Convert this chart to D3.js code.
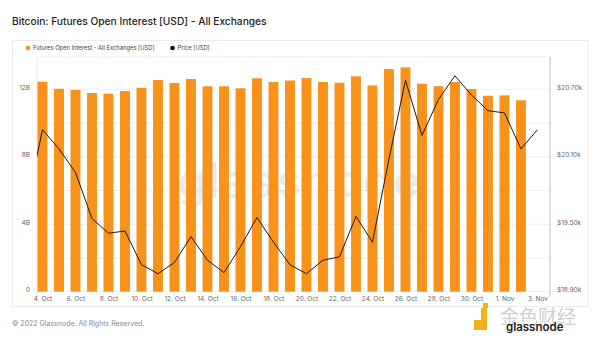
<!DOCTYPE html>
<html><head><meta charset="utf-8">
<script src="https://cdn.jsdelivr.net/npm/d3@7/dist/d3.min.js"></script>
<style>
body{margin:0;background:#fff}
svg{display:block;font-family:Inter,"Noto Sans",sans-serif}
</style></head>
<body><svg id="c" width="600" height="338"></svg>
<script>
// ---- data ----
const oiDates = ["2022-10-04","2022-10-05","2022-10-06","2022-10-07","2022-10-08","2022-10-09","2022-10-10","2022-10-11","2022-10-12","2022-10-13","2022-10-14","2022-10-15","2022-10-16","2022-10-17","2022-10-18","2022-10-19","2022-10-20","2022-10-21","2022-10-22","2022-10-23","2022-10-24","2022-10-25","2022-10-26","2022-10-27","2022-10-28","2022-10-29","2022-10-30","2022-10-31","2022-11-01","2022-11-02"];
const openInterestB = [12.45,12.03,11.96,11.78,11.74,11.90,12.09,12.55,12.37,12.61,12.18,12.18,12.06,12.65,12.43,12.52,12.67,12.43,12.39,12.77,12.23,13.20,13.30,12.33,12.19,12.43,12.02,11.62,11.64,11.35];
const priceDates = ["2022-10-03"].concat(oiDates, ["2022-11-03"]);
const priceK = [19.65,20.34,20.17,19.96,19.55,19.42,19.44,19.14,19.06,19.16,19.39,19.18,19.07,19.30,19.56,19.34,19.14,19.06,19.18,19.21,19.57,19.34,20.08,20.78,20.29,20.61,20.82,20.65,20.51,20.49,20.17,20.34];
const oiTicks = [0,4,8,12];
const oiTickLabels = ["0","4B","8B","12B"];
const priceTicks = [18.9,19.5,20.1,20.7];
const priceTickLabels = ["$18.90k","$19.50k","$20.10k","$20.70k"];
const gridVals = [0,2,4,6,8,10,12];
const xTickDates = ["2022-10-04","2022-10-06","2022-10-08","2022-10-10","2022-10-12","2022-10-14","2022-10-16","2022-10-18","2022-10-20","2022-10-22","2022-10-24","2022-10-26","2022-10-28","2022-10-30","2022-11-01","2022-11-03"];
const title = "Bitcoin: Futures Open Interest [USD] - All Exchanges";
const legendItems = [{label:"Futures Open Interest - All Exchanges [USD]", color:"#f7931a"},{label:"Price [USD]", color:"#111"}];

// ---- layout ----
const svg = d3.select("#c");
const L = 37, R = 550, T = 57, B = 291.7;
const parse = d3.utcParse("%Y-%m-%d");
const DAY = 864e5;
const t0 = parse(oiDates[0]);
const x = d3.scaleUtc()
  .domain([new Date(+t0 - 0.333*DAY), new Date(+t0 + 30.76*DAY)])
  .range([L, R]);
const yL = d3.scaleLinear().domain([0, 12]).range([B, 89.3]);
const yR = d3.scaleLinear().domain([18.9, 20.7]).range([B, 89.3]);
const dayW = x(new Date(+t0 + DAY)) - x(t0);
const barW = dayW * 0.6;

// frame
svg.append("rect").attr("x", 12.5).attr("y", 40.5).attr("width", 575.5).attr("height", 266)
  .attr("fill", "none").attr("stroke", "#ececec");

// title
svg.append("text").attr("x", 12).attr("y", 25).attr("font-size", 10.2).attr("font-weight", 500)
  .attr("fill", "#222").text(title);

// legend
let lx = 28;
legendItems.forEach((d, i) => {
  const g = svg.append("g");
  g.append("circle").attr("cx", lx).attr("cy", 48).attr("r", 2.3).attr("fill", d.color);
  const t = g.append("text").attr("x", lx + 5).attr("y", 50.2).attr("font-size", 5.8).attr("fill", "#444").text(d.label);
  lx += t.node().getComputedTextLength() + 23;
});

// plot frame lines
svg.append("line").attr("x1", L).attr("x2", R).attr("y1", T).attr("y2", T).attr("stroke", "#ececec");
svg.append("line").attr("x1", L).attr("x2", L).attr("y1", T).attr("y2", B + 5).attr("stroke", "#e6e6e6");

// gridlines
svg.append("g").selectAll("line").data(gridVals).join("line")
  .attr("x1", L).attr("x2", R).attr("y1", d => yL(d)).attr("y2", d => yL(d))
  .attr("stroke", "#efefef").attr("stroke-width", 1);

// watermark
svg.append("text").attr("x", 300).attr("y", 197).attr("text-anchor", "middle")
  .attr("font-size", 46).attr("font-weight", 500).attr("fill", "#000").attr("opacity", 0.07)
  .attr("letter-spacing", 2).text("glassnode");

// bars
svg.append("g").selectAll("rect").data(openInterestB).join("rect")
  .attr("x", (d, i) => x(parse(oiDates[i])) - barW / 2)
  .attr("width", barW)
  .attr("y", d => yL(d))
  .attr("height", d => yL(0) - yL(d))
  .attr("fill", "#f7931a");

// price line
svg.append("clipPath").attr("id", "clip").append("rect").attr("x", L).attr("y", T).attr("width", R - L).attr("height", B - T);
const line = d3.line().x((d, i) => x(parse(priceDates[i]))).y(d => yR(d));
svg.append("path").datum(priceK).attr("clip-path", "url(#clip)")
  .attr("d", line).attr("fill", "none").attr("stroke", "#1a1a1a").attr("stroke-width", 1);

// left axis
const axL = d3.axisLeft(yL).tickValues(oiTicks).tickFormat((d, i) => oiTickLabels[i]).tickSize(0).tickPadding(7);
const gL = svg.append("g").attr("transform", `translate(${L},-2)`).call(axL);
gL.select(".domain").remove();
gL.selectAll("text").attr("font-size", 6.5).attr("fill", "#666").attr("font-family", "Inter, sans-serif");

// right axis
svg.append("line").attr("x1", R).attr("x2", R).attr("y1", T).attr("y2", B + 5).attr("stroke", "#bdbdbd");
const axR = d3.axisRight(yR).tickValues(priceTicks).tickFormat((d, i) => priceTickLabels[i]).tickSize(0).tickPadding(7);
const gR = svg.append("g").attr("transform", `translate(${R},-2)`).call(axR);
gR.select(".domain").remove();
gR.selectAll("text").attr("font-size", 6.5).attr("fill", "#666").attr("font-family", "Inter, sans-serif");

// x axis
const axX = d3.axisBottom(x).tickValues(xTickDates.map(parse)).tickFormat(d3.utcFormat("%-d. %b")).tickSize(0).tickPadding(6);
const gX = svg.append("g").attr("transform", `translate(0,${B - 1})`).call(axX);
gX.select(".domain").remove();
gX.selectAll("text").attr("font-size", 6.5).attr("fill", "#666").attr("font-family", "Inter, sans-serif");

// footer
svg.append("text").attr("x", 12).attr("y", 326).attr("font-size", 7).attr("fill", "#888").text("© 2022 Glassnode. All Rights Reserved.");

// corner watermark (logo)
const wm = svg.append("g");
wm.append("rect").attr("x", 474).attr("y", 308).attr("width", 13).attr("height", 22).attr("fill", "#f2b21c");
wm.append("rect").attr("x", 474).attr("y", 308).attr("width", 7).attr("height", 12).attr("fill", "#fff");
wm.append("rect").attr("x", 483).attr("y", 303).attr("width", 5).attr("height", 5).attr("fill", "#f2b21c");
wm.append("text").attr("x", 500).attr("y", 324).attr("font-size", 19).attr("fill", "#cfcfcf")
  .attr("font-family", "Noto Sans CJK SC").text("金色财经");
wm.append("text").attr("x", 506).attr("y", 331).attr("font-size", 11.5).attr("font-weight", 600).attr("fill", "#222").text("glassnode");
</script></body></html>
